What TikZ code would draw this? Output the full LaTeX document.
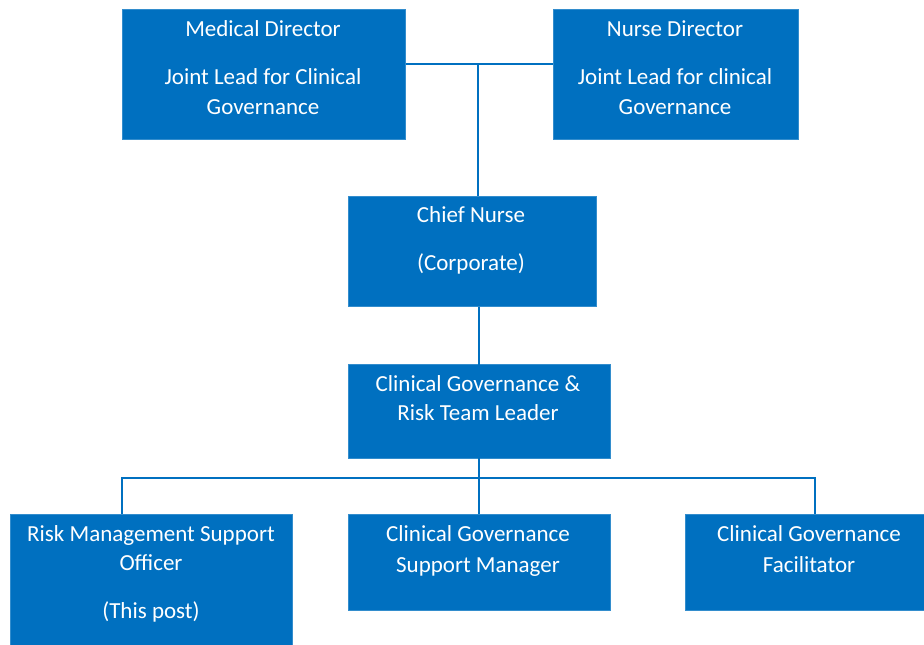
\documentclass[tikz,border=0pt]{standalone}
\usepackage{fontspec}
\setmainfont{Carlito}
\definecolor{orgblue}{RGB}{0,112,192}
\tikzset{
  box/.style={fill=orgblue, draw=orgblue!80!white, line width=0.6pt, inner sep=0pt, anchor=north west},
  lbl/.style={text=white, font=\fontsize{23}{29.5}\selectfont, align=center, anchor=north, inner sep=0pt},
  link/.style={draw=orgblue, line width=2.6pt}
}
\begin{document}
\begin{tikzpicture}[x=1pt,y=-1pt]
\useasboundingbox (0,0) rectangle (924,645);
\clip (0,0) rectangle (924,645);
% boxes
\node[box, minimum width=283pt, minimum height=130pt] (md) at (122,9) {};
\node[box, minimum width=245pt, minimum height=130pt] (nd) at (553,9) {};
\node[box, minimum width=248pt, minimum height=110pt] (cn) at (348,196) {};
\node[box, minimum width=262pt, minimum height=94pt] (tl) at (348,364) {};
\node[box, minimum width=282pt, minimum height=150pt] (rm) at (10,514) {};
\node[box, minimum width=262pt, minimum height=96pt] (sm) at (348,514) {};
\node[box, minimum width=260pt, minimum height=96pt] (cf) at (685,514) {};
% connectors
\coordinate (top) at (478,64);
\coordinate (bus) at (479,478);
\draw[link] (md.east |- top) -- (nd.west |- top);
\draw[link] (top) -- (top |- cn.north);
\draw[link] (cn.south -| bus) -- (tl.south -| bus);
\draw[link] (tl.south -| bus) -- (bus);
\draw[link] (122,514) |- (bus) -| (815,514);
\draw[link] (bus) -- (bus |- sm.north);
% labels
\node[lbl] (mdt) at (263,20) {Medical Director\\[19pt]Joint Lead for Clinical\\Governance};
\node[lbl] (ndt) at (675,20) {Nurse Director\\[19pt]Joint Lead for clinical\\Governance};
\node[lbl] (cnt) at (471,206) {Chief Nurse\\[19pt](Corporate)};
\node[lbl] (tlt) at (478,375) {Clinical Governance \&\\Risk Team Leader};
\node[lbl] (rmt) at (151,525) {Risk Management Support\\Officer\\[18pt](This post)};
\node[lbl] (smt) at (478,525) {Clinical Governance\\[2pt]Support Manager};
\node[lbl] (cft) at (809,525) {Clinical Governance\\[2pt]Facilitator};
\end{tikzpicture}
\end{document}
